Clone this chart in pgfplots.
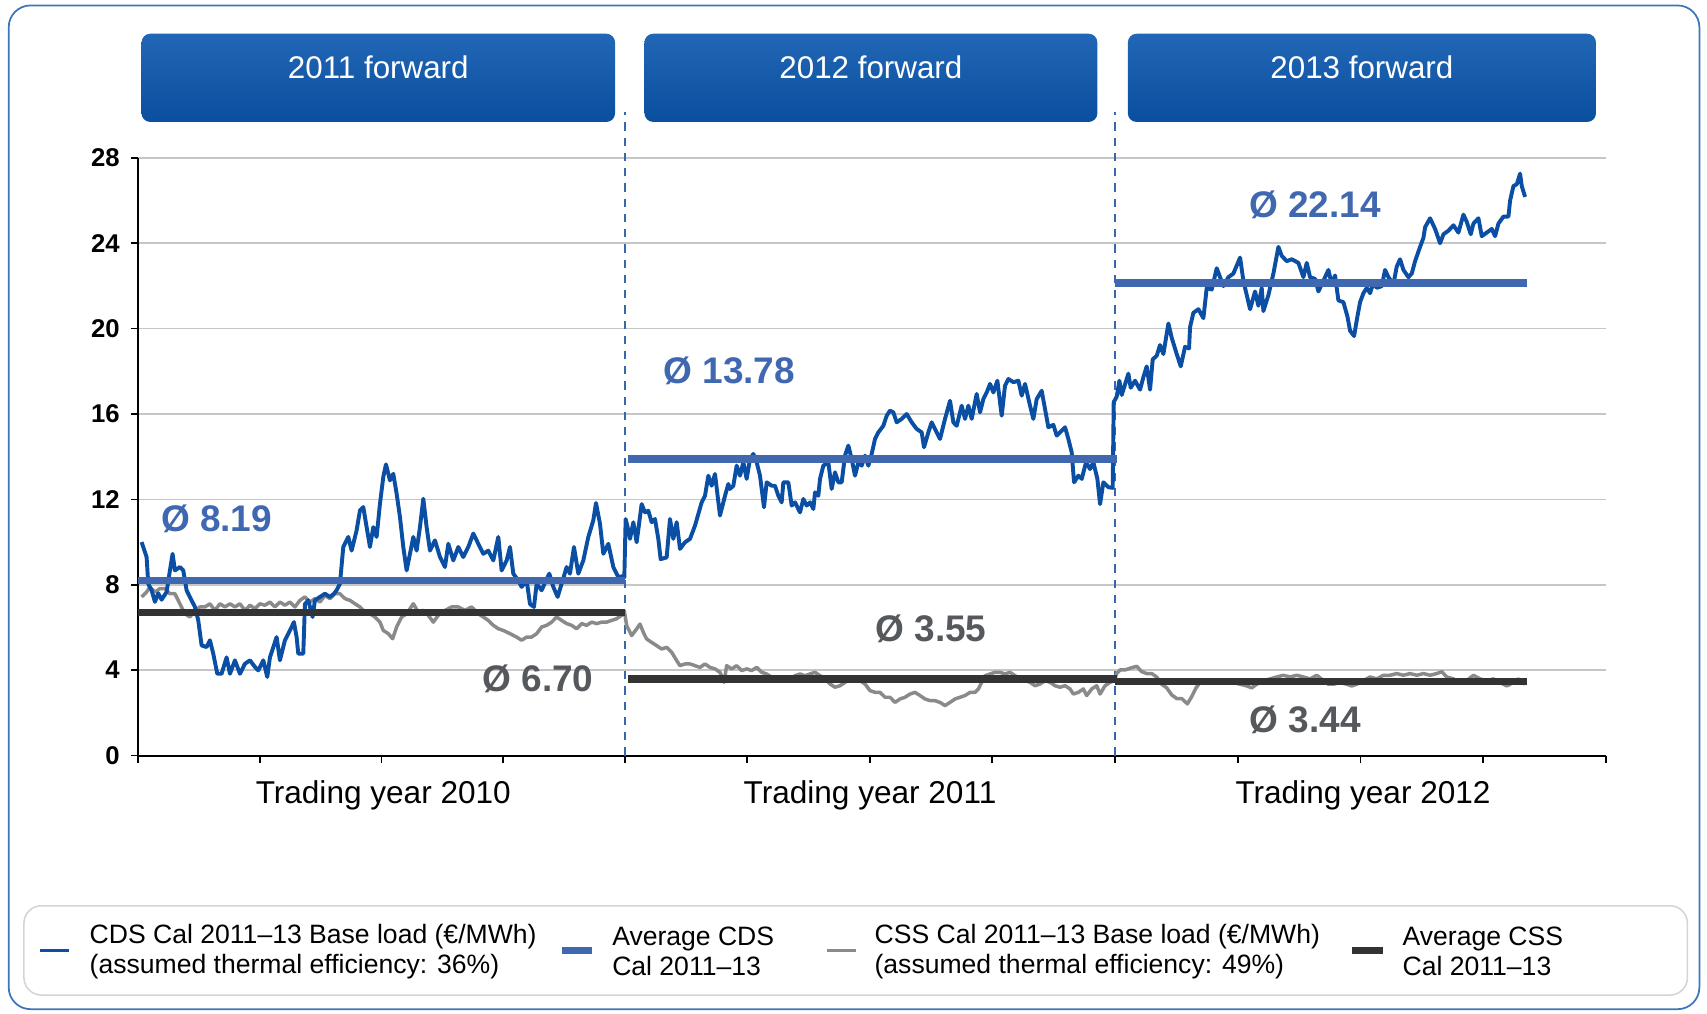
\documentclass[border=0pt]{standalone}
\usepackage{fontspec}
\setmainfont{Liberation Sans}
\usepackage{pgfplots}
\pgfplotsset{compat=1.18}
\definecolor{cds}{HTML}{0B4FA5}
\definecolor{cdsavg}{HTML}{4068B0}
\definecolor{css}{HTML}{8A8A8A}
\definecolor{cssavg}{HTML}{333333}
\definecolor{gridc}{HTML}{C6C6C6}
\definecolor{dashc}{HTML}{3A66B0}
\definecolor{framec}{HTML}{3D75BC}
\definecolor{boxtop}{HTML}{2167B5}
\definecolor{boxbot}{HTML}{0A4F9F}
\definecolor{labgray}{HTML}{55585C}
\definecolor{legb}{HTML}{D4D4D4}
\begin{document}
\begin{tikzpicture}
\begin{scope}[x=0.5pt,y=-0.5pt]
\useasboundingbox (0,0) rectangle (1568,931);
\draw[framec, line width=0.8pt, rounded corners=10pt] (8,5) rectangle (1561,927);
\foreach \a/\b/\t in {130/565/2011 forward, 592/1008/2012 forward, 1036/1466/2013 forward} {
  \shade[top color=boxtop, bottom color=boxbot, rounded corners=4pt] (\a,31) rectangle (\b,112);
  \node[white, font=\fontsize{14.4}{17}\selectfont] at ({(\a+\b)/2},62) {\t};
}
\draw[legb, line width=0.7pt, rounded corners=8pt] (22,832) rectangle (1550,914);
\draw[cds, line width=1.6pt] (37,873) -- (63,873);
\node[anchor=west, align=left, inner sep=0pt, font=\fontsize{12.2}{14}\selectfont] at (82,874) {CDS Cal 2011–13 Base load (€/MWh)\\(assumed thermal efficiency: 36\%)};
\draw[cdsavg, line width=3.4pt] (516,873) -- (544,873);
\node[anchor=west, align=left, inner sep=0pt, font=\fontsize{12.2}{14}\selectfont] at (562,874) {Average CDS\\Cal 2011–13};
\draw[css, line width=1.6pt] (760,873) -- (786,873);
\node[anchor=west, align=left, inner sep=0pt, font=\fontsize{12.2}{14}\selectfont] at (803,874) {CSS Cal 2011–13 Base load (€/MWh)\\(assumed thermal efficiency: 49\%)};
\draw[cssavg, line width=3.4pt] (1242,873) -- (1270,873);
\node[anchor=west, align=left, inner sep=0pt, font=\fontsize{12.2}{14}\selectfont] at (1288,874) {Average CSS\\Cal 2011–13};
\end{scope}
\begin{axis}[at={(63.5pt,-347pt)}, anchor=south west, scale only axis,
  width=674pt, height=274.5pt,
  xmin=0, xmax=4402, ymin=0, ymax=28, clip=false,
  axis x line*=bottom, axis y line*=left,
  axis line style={line width=0.9pt, black, -},
  x axis line style={-}, y axis line style={-},
  xtick={0,365,730,1095,1460,1827,2195,2562,2930,3298,3666,4034,4402},
  xticklabels={},
  ytick={0,4,8,12,16,20,24,28},
  ymajorgrids, grid style={gridc, line width=0.8pt},
  tick align=outside, major tick length=3.5pt,
  tick style={black, line width=0.8pt},
  yticklabel style={font=\bfseries\fontsize{11.8}{13}\selectfont, xshift=-1.5pt},
  /pgf/number format/assume math mode=true]
\draw[dashc, line width=0.9pt, dash pattern=on 3.8pt off 3.2pt] (axis cs:1460,0) -- (axis cs:1460,30.15);
\draw[dashc, line width=0.9pt, dash pattern=on 3.8pt off 3.2pt] (axis cs:2930,0) -- (axis cs:2930,30.15);
% CSS
\addplot[css, line width=1.6pt, line join=round] coordinates {
(10,7.43) (25,7.66) (35,7.9) (50,7.66) (65,7.82) (80,7.82) (95,7.58) (110,7.58) (125,7.11) (140,6.64) (155,6.49) (170,6.8) (185,6.96) (200,6.96) (215,7.11) (230,6.8) (245,7.11) (260,6.96) (275,7.11) (290,6.96) (305,7.11) (320,6.8) (335,7.04) (350,6.88) (365,7.11) (380,7.04) (395,7.19) (410,6.96) (425,7.19) (440,7.04) (455,7.19) (470,6.96) (485,7.27) (500,7.43) (515,7.19) (530,7.35) (545,7.19) (560,7.5) (575,7.35) (590,7.58) (605,7.58) (620,7.35) (635,7.27) (650,7.11) (665,6.96) (680,6.72) (695,6.64) (710,6.49) (725,6.25) (735,5.86) (750,5.71) (763,5.47) (775,6.02) (790,6.49) (805,6.64) (825,7.11) (840,6.72) (855,6.8) (870,6.57) (885,6.25) (900,6.57) (920,6.8) (940,6.96) (960,6.96) (980,6.8) (1000,6.96) (1020,6.64) (1035,6.49) (1050,6.33) (1065,6.1) (1080,5.94) (1095,5.86) (1115,5.71) (1135,5.55) (1150,5.4) (1165,5.55) (1180,5.55) (1195,5.71) (1210,6.02) (1225,6.1) (1240,6.25) (1255,6.49) (1270,6.33) (1285,6.18) (1300,6.1) (1315,5.94) (1330,6.18) (1345,6.1) (1360,6.25) (1375,6.18) (1390,6.25) (1405,6.25) (1420,6.33) (1435,6.41) (1450,6.57)
(1458,6.79) (1465,6.09) (1480,5.62) (1495,5.93) (1505,6.16) (1515,5.77) (1525,5.46) (1540,5.3) (1555,5.15) (1570,4.99) (1585,5.07) (1600,4.84) (1615,4.45) (1625,4.21) (1640,4.29) (1655,4.29) (1670,4.21) (1685,4.13) (1700,4.29) (1715,4.13) (1730,4.06) (1745,3.9) (1757,3.43) (1765,4.21) (1780,4.06) (1795,4.21) (1810,3.98) (1825,4.06) (1840,3.98) (1855,4.13) (1870,3.9) (1885,3.82) (1900,3.67) (1910,3.51) (1925,3.59) (1940,3.67) (1955,3.59) (1970,3.74) (1985,3.82) (2000,3.74) (2015,3.82) (2030,3.9) (2045,3.74) (2060,3.59) (2075,3.35) (2090,3.2) (2105,3.27) (2120,3.43) (2135,3.59) (2150,3.67) (2165,3.51) (2180,3.35) (2195,3.04) (2210,2.96) (2225,2.96) (2240,2.73) (2255,2.73) (2270,2.49) (2285,2.65) (2300,2.73) (2315,2.88) (2330,2.96) (2345,2.81) (2360,2.65) (2375,2.57) (2390,2.57) (2405,2.49) (2420,2.34) (2435,2.49) (2450,2.65) (2465,2.73) (2480,2.81) (2495,2.96) (2510,2.96) (2520,3.12) (2530,3.43) (2540,3.74) (2555,3.82) (2570,3.9) (2585,3.9) (2600,3.82) (2615,3.9) (2630,3.74) (2645,3.59) (2660,3.51) (2675,3.43) (2690,3.27) (2705,3.35) (2720,3.51) (2735,3.43) (2750,3.27) (2765,3.2) (2780,3.27) (2795,3.12) (2805,2.88) (2820,2.96) (2835,3.12) (2845,2.81) (2860,3.12) (2875,3.27) (2885,2.88) (2900,3.27) (2915,3.43) (2928,3.51)
(2935,3.84) (2945,4.01) (2960,4.01) (2975,4.09) (2995,4.18) (3010,3.93) (3025,3.84) (3040,3.84) (3055,3.68) (3070,3.34) (3085,3.17) (3100,2.84) (3115,2.67) (3130,2.67) (3147,2.42) (3160,2.76) (3173,3.17) (3185,3.42) (3205,3.51) (3225,3.42) (3245,3.51) (3265,3.42) (3285,3.42) (3305,3.34) (3325,3.26) (3340,3.17) (3355,3.34) (3375,3.51) (3395,3.59) (3415,3.68) (3435,3.76) (3455,3.68) (3475,3.76) (3495,3.68) (3515,3.59) (3535,3.76) (3555,3.51) (3570,3.34) (3585,3.34) (3605,3.42) (3625,3.34) (3640,3.26) (3655,3.34) (3675,3.51) (3695,3.68) (3715,3.59) (3735,3.76) (3755,3.76) (3775,3.84) (3795,3.76) (3815,3.84) (3835,3.76) (3855,3.84) (3875,3.76) (3895,3.84) (3910,3.93) (3925,3.68) (3945,3.59) (3965,3.42) (3985,3.51) (4005,3.76) (4025,3.59) (4045,3.51) (4065,3.59) (4085,3.42) (4105,3.26) (4125,3.42) (4140,3.59) (4160,3.34)
};
% CDS
\addplot[cds, line width=1.8pt, line join=round] coordinates {
(10,10.0) (25,9.3) (30,8.05) (40,7.74) (50,7.2) (60,7.6) (70,7.3) (85,7.66) (95,8.67) (103,9.45) (110,8.67) (125,8.83) (135,8.67) (145,7.74) (160,7.27) (170,6.96) (180,6.33) (190,5.16) (205,5.08) (215,5.4) (225,4.77) (237,3.83) (250,3.83) (265,4.6) (275,3.83) (290,4.46) (305,3.83) (320,4.3) (335,4.46) (350,4.15) (360,3.99) (375,4.46) (387,3.68) (395,4.6) (415,5.55) (425,4.46) (440,5.4) (455,5.86) (467,6.25) (475,5.55) (480,4.77) (495,4.77) (500,7.1) (510,7.27) (523,6.49) (530,7.27) (545,7.43) (560,7.58) (575,7.43) (587,7.58) (595,7.74) (605,8.05) (615,9.77) (630,10.24) (640,9.6) (655,10.55) (665,11.48) (675,11.64) (685,10.7) (695,9.77) (705,10.7) (715,10.24) (725,11.8) (735,13.05) (743,13.64) (755,12.89) (765,13.2) (775,12.27) (785,11.17) (795,9.77) (805,8.67) (815,9.45) (825,10.24) (835,9.6) (845,10.7) (855,12.03) (865,10.7) (875,9.6) (890,10.08) (905,9.3) (920,8.83) (930,9.92) (945,9.14) (960,9.77) (975,9.3) (990,9.77) (1005,10.4) (1020,9.92) (1035,9.45) (1050,9.6) (1065,9.14) (1080,10.24) (1090,8.67) (1105,9.14) (1115,9.77) (1125,8.52) (1140,8.2) (1150,7.9) (1165,8.2) (1175,7.1) (1187,6.96) (1195,8.05) (1210,7.74) (1223,8.2) (1233,8.52) (1245,7.9) (1258,7.43) (1270,8.05) (1285,8.83) (1295,8.52) (1307,9.77) (1320,8.52) (1335,9.14) (1350,10.24) (1365,11.02) (1373,11.83) (1385,10.86) (1395,9.45) (1410,9.92) (1425,8.83) (1440,8.36) (1452,8.4) (1458,8.35)
(1462,11.08) (1467,10.77) (1475,10.15) (1485,10.93) (1495,9.99) (1510,11.78) (1520,11.39) (1530,11.47) (1540,10.93) (1550,11.08) (1560,10.15) (1567,9.2) (1585,9.28) (1595,11.08) (1605,10.15) (1615,10.93) (1625,9.68) (1640,9.99) (1655,10.15) (1670,10.77) (1690,11.86) (1700,12.17) (1710,13.11) (1720,12.64) (1730,13.19) (1745,11.24) (1760,12.17) (1770,12.72) (1775,12.49) (1785,12.64) (1795,13.58) (1805,13.11) (1815,13.74) (1825,12.96) (1835,13.89) (1845,14.13) (1855,13.74) (1865,13.11) (1877,11.63) (1885,12.8) (1900,12.64) (1910,12.64) (1920,12.17) (1930,11.86) (1935,12.8) (1950,12.8) (1960,11.71) (1970,11.86) (1985,11.39) (1995,12.02) (2005,11.71) (2015,11.86) (2025,11.55) (2030,12.33) (2040,12.17) (2045,12.96) (2055,13.58) (2070,13.74) (2080,12.49) (2090,13.27) (2100,12.8) (2110,12.8) (2120,14.05) (2130,14.52) (2140,13.89) (2150,13.11) (2160,13.74) (2170,13.58) (2180,14.05) (2190,13.58) (2200,14.13) (2210,14.83) (2220,15.14) (2235,15.45) (2245,15.92) (2255,16.16) (2265,16.08) (2275,15.61) (2290,15.77) (2305,16.0) (2320,15.61) (2335,15.3) (2350,15.14) (2357,14.44) (2370,15.14) (2380,15.61) (2390,15.3) (2405,14.83) (2420,15.77) (2435,16.62) (2445,15.61) (2455,15.45) (2470,16.39) (2480,15.77) (2490,16.39) (2500,15.77) (2515,16.94) (2525,16.08) (2535,16.7) (2545,17.01) (2555,17.41) (2565,17.01) (2577,17.56) (2590,15.92) (2600,17.33) (2610,17.64) (2625,17.49) (2640,17.56) (2650,16.86) (2660,17.41) (2675,16.39) (2685,15.77) (2695,16.7) (2710,17.09) (2720,16.23) (2730,15.38) (2745,15.49) (2755,14.99) (2765,15.14) (2780,15.38) (2790,14.83) (2800,14.2) (2807,12.8) (2820,13.11) (2830,12.96) (2843,13.74) (2855,13.42) (2865,13.74) (2877,12.96) (2885,11.78) (2895,12.8) (2910,12.57) (2923,12.54)
(2926,16.56) (2935,16.81) (2943,17.56) (2950,16.89) (2960,17.39) (2970,17.89) (2977,17.23) (2990,17.56) (3005,17.14) (3015,17.73) (3025,18.23) (3035,17.14) (3043,18.56) (3055,18.73) (3065,19.23) (3075,18.81) (3090,20.24) (3100,19.57) (3115,18.81) (3127,18.23) (3140,19.15) (3152,19.07) (3155,20.07) (3165,20.74) (3180,20.91) (3195,20.49) (3205,21.91) (3220,21.83) (3235,22.83) (3245,22.41) (3255,21.99) (3270,22.41) (3285,22.58) (3305,23.33) (3315,22.24) (3335,20.91) (3350,21.74) (3360,21.07) (3370,21.91) (3375,20.82) (3390,21.57) (3405,22.58) (3420,23.83) (3430,23.41) (3445,23.16) (3460,23.25) (3480,23.08) (3495,22.41) (3505,23.08) (3515,22.41) (3530,22.33) (3540,21.74) (3555,22.24) (3570,22.75) (3580,22.08) (3590,22.49) (3600,21.32) (3615,21.24) (3627,20.57) (3635,19.9) (3647,19.65) (3657,20.57) (3665,21.24) (3675,21.66) (3685,21.91) (3695,21.66) (3705,22.16) (3715,21.91) (3730,21.99) (3740,22.75) (3750,22.41) (3765,22.08) (3775,22.91) (3785,23.25) (3795,22.75) (3810,22.41) (3820,22.58) (3830,23.16) (3845,23.83) (3855,24.25) (3860,24.75) (3875,25.17) (3890,24.67) (3905,24.0) (3915,24.42) (3930,24.59) (3945,24.84) (3960,24.5) (3975,25.34) (3985,25.0) (3997,24.42) (4005,24.92) (4020,25.17) (4030,24.33) (4045,24.5) (4060,24.67) (4070,24.33) (4080,24.92) (4095,25.25) (4110,25.25) (4115,26.0) (4125,26.68) (4135,26.76) (4145,27.26) (4150,26.68) (4160,26.17)
};
% averages
\addplot[cdsavg, line width=3.4pt, line cap=butt] coordinates {(0,8.19) (1460,8.19)};
\addplot[cdsavg, line width=3.4pt, line cap=butt] coordinates {(1468,13.9) (2935,13.9)};
\addplot[cdsavg, line width=3.4pt, line cap=butt] coordinates {(2930,22.14) (4165,22.14)};
\addplot[cssavg, line width=3.4pt, line cap=butt] coordinates {(0,6.70) (1460,6.70)};
\addplot[cssavg, line width=3.4pt, line cap=butt] coordinates {(1468,3.58) (2935,3.58)};
\addplot[cssavg, line width=3.4pt, line cap=butt] coordinates {(2930,3.47) (4165,3.47)};
% labels
\node[cdsavg, font=\bfseries\fontsize{17}{20}\selectfont] at (axis cs:235,11.07) {Ø 8.19};
\node[cdsavg, font=\bfseries\fontsize{17}{20}\selectfont] at (axis cs:1773,18.01) {Ø 13.78};
\node[cdsavg, font=\bfseries\fontsize{17}{20}\selectfont] at (axis cs:3530,25.82) {Ø 22.14};
\node[labgray, font=\bfseries\fontsize{17}{20}\selectfont] at (axis cs:1199,3.57) {Ø 6.70};
\node[labgray, font=\bfseries\fontsize{17}{20}\selectfont] at (axis cs:2378,5.92) {Ø 3.55};
\node[labgray, font=\bfseries\fontsize{17}{20}\selectfont] at (axis cs:3501,1.68) {Ø 3.44};
\node[font=\fontsize{14.5}{17}\selectfont] at (axis cs:735,-1.85) {Trading year 2010};
\node[font=\fontsize{14.5}{17}\selectfont] at (axis cs:2195,-1.85) {Trading year 2011};
\node[font=\fontsize{14.5}{17}\selectfont] at (axis cs:3674,-1.85) {Trading year 2012};
\end{axis}
\end{tikzpicture}
\end{document}
